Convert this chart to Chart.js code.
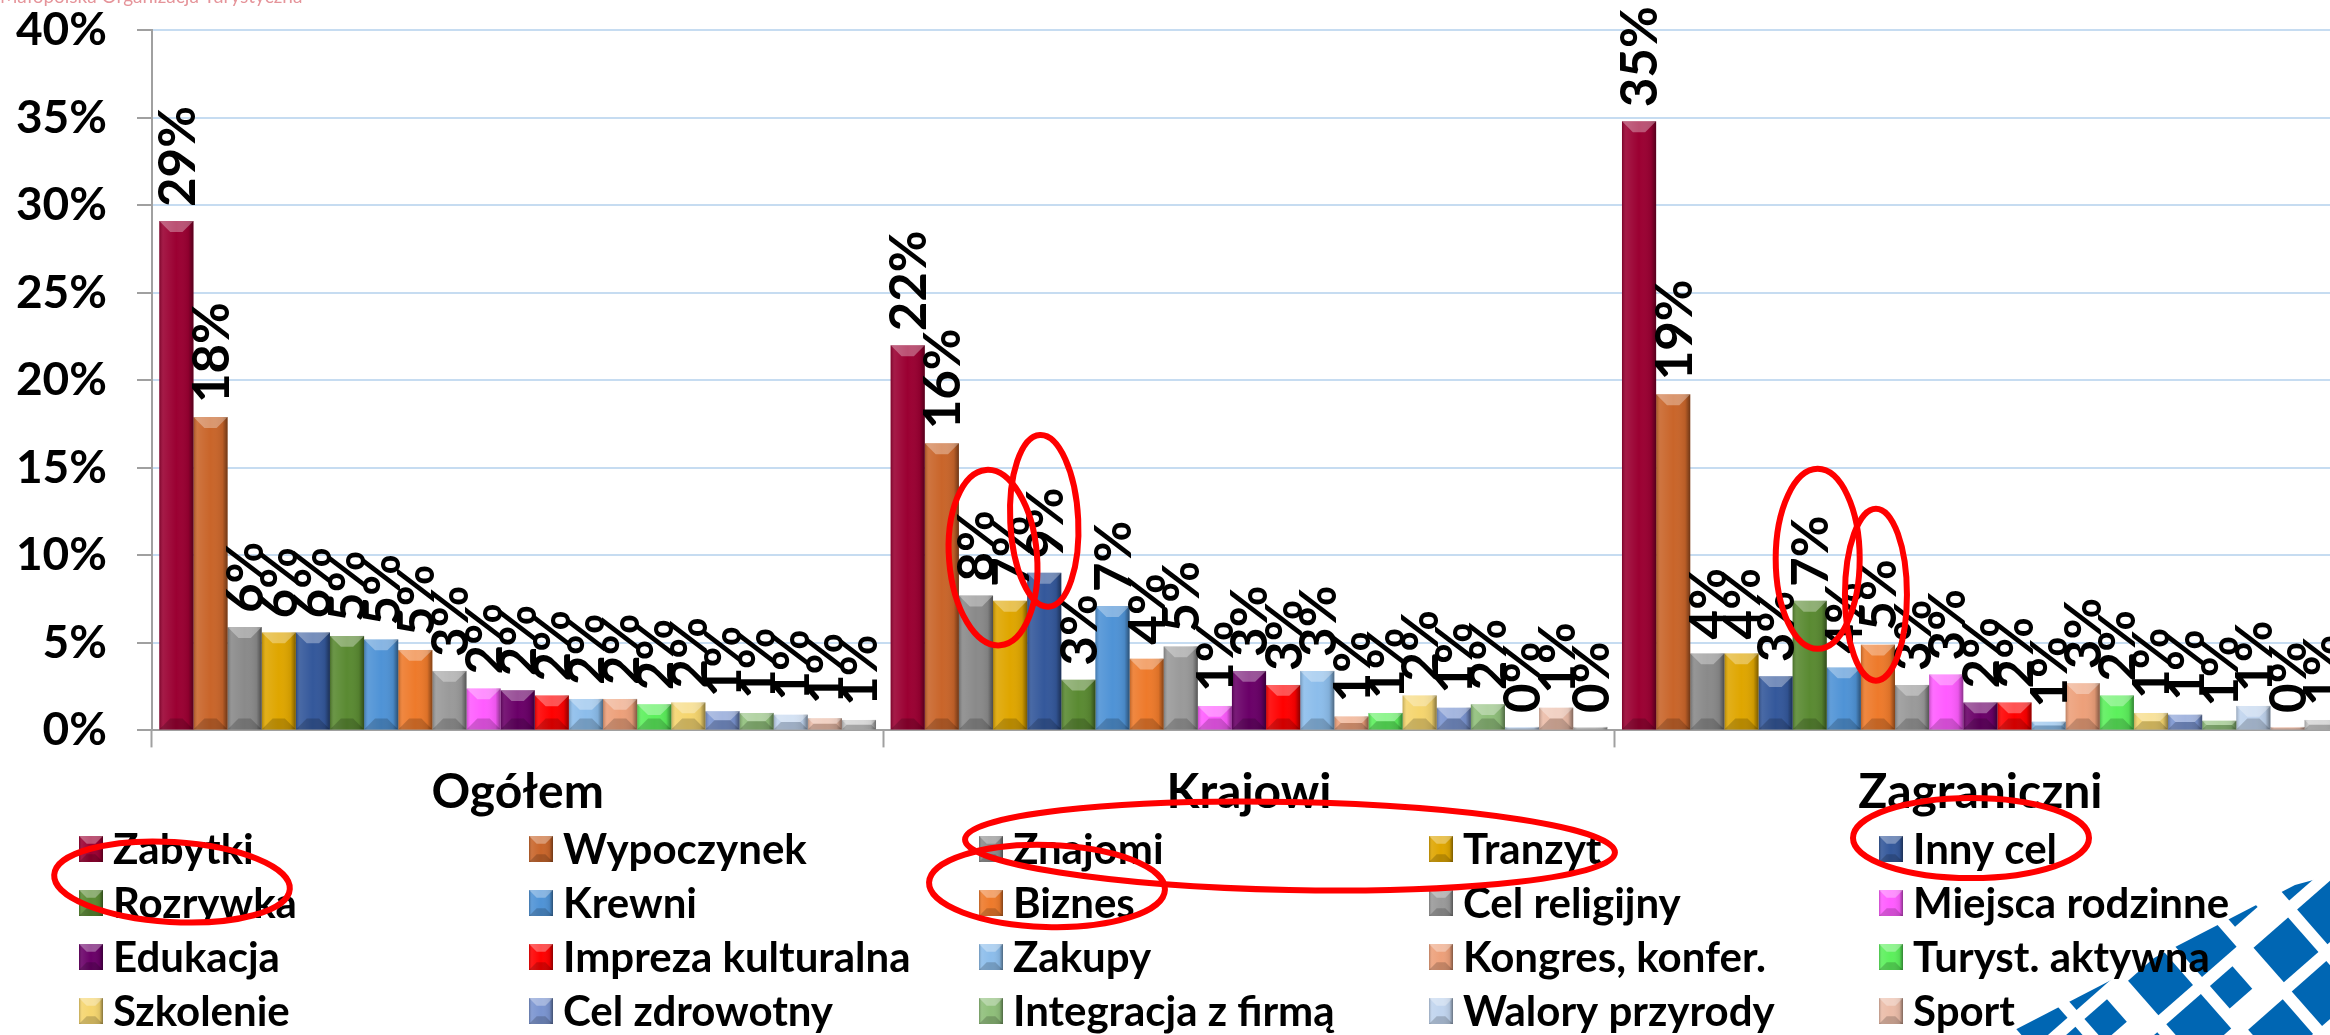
<!DOCTYPE html>
<html><head><meta charset="utf-8">
<script src="https://cdn.jsdelivr.net/npm/chart.js@4.4.1/dist/chart.umd.min.js"></script>
<style>
html,body{margin:0;padding:0;background:#fff;overflow:hidden;width:2330px;height:1035px;}
#wrap{position:absolute;left:0;top:0;width:2350px;height:1035px;}
</style></head><body>
<div id="wrap"><canvas id="c" width="2350" height="1035"></canvas></div>
<script>
// ---- DATA ----
const categories = ['Ogółem', 'Krajowi', 'Zagraniczni'];
const seriesNames = ['Zabytki','Wypoczynek','Znajomi','Tranzyt','Inny cel','Rozrywka','Krewni','Biznes','Cel religijny','Miejsca rodzinne','Edukacja','Impreza kulturalna','Zakupy','Kongres, konfer.','Turyst. aktywna','Szkolenie','Cel zdrowotny','Integracja z firmą','Walory przyrody','Sport','Inne'];
const seriesColors = ['#9b0032','#c9652a','#8a8a8a','#dfa600','#34589b','#5a8a32','#4f93d6','#ee7a2b','#9a9a9a','#ff5cff','#6a0068','#ff0000','#8cbdeb','#eda07a','#5cf05c','#f5d56e','#7a94d0','#8fbf7a','#c0d4ee','#ebbca8','#c8c8c8'];
const ogolem      = [29.1,17.9,5.9,5.6,5.6,5.4,5.2,4.6,3.4,2.4,2.3,2.0,1.8,1.8,1.5,1.6,1.1,1.0,0.9,0.7,0.6];
const krajowi     = [22.0,16.4,7.7,7.4,9.0,2.9,7.1,4.1,4.8,1.4,3.4,2.6,3.4,0.8,1.0,2.0,1.3,1.5,0.2,1.3,0.2];
const zagraniczni = [34.8,19.2,4.4,4.4,3.1,7.4,3.6,4.9,2.6,3.2,1.6,1.6,0.5,2.7,2.0,1.0,0.9,0.55,1.4,0.2,0.6];
const yTickValues = [0,5,10,15,20,25,30,35,40];
const headerText = 'Małopolska Organizacja Turystyczna';

const datasets = seriesNames.map((name, i) => ({
  label: name,
  data: [ogolem[i], krajowi[i], zagraniczni[i]],
  backgroundColor: seriesColors[i],
  borderWidth: 0,
  categoryPercentage: 0.98,
  barPercentage: 1.0
}));

function bevel(ctx, left, top, right, bottom) {
  const w = right - left, h = bottom - top;
  if (h <= 0 || w <= 0) return;
  ctx.save();
  const g = ctx.createLinearGradient(left, 0, right, 0);
  g.addColorStop(0, 'rgba(0,0,0,0.22)');
  g.addColorStop(0.12, 'rgba(255,255,255,0.10)');
  g.addColorStop(0.5, 'rgba(255,255,255,0)');
  g.addColorStop(0.85, 'rgba(0,0,0,0.08)');
  g.addColorStop(1, 'rgba(0,0,0,0.45)');
  ctx.fillStyle = g;
  ctx.fillRect(left, top, w, h);
  const d = Math.min(w * 0.32, h / 2);
  ctx.fillStyle = 'rgba(255,255,255,0.32)';
  ctx.beginPath();
  ctx.moveTo(left, top); ctx.lineTo(right, top); ctx.lineTo(right - d, top + d); ctx.lineTo(left + d, top + d); ctx.closePath();
  ctx.fill();
  ctx.fillStyle = 'rgba(0,0,0,0.18)';
  ctx.beginPath();
  ctx.moveTo(left, bottom); ctx.lineTo(right, bottom); ctx.lineTo(right - d, bottom - d); ctx.lineTo(left + d, bottom - d); ctx.closePath();
  ctx.fill();
  ctx.restore();
}

const legendPos = [];

const barDeco = {
  id: 'barDeco',
  afterDatasetsDraw(chart) {
    const ctx = chart.ctx;
    chart.data.datasets.forEach((ds, i) => {
      const meta = chart.getDatasetMeta(i);
      meta.data.forEach((el) => {
        const p = el.getProps(['x','y','base','width'], true);
        bevel(ctx, p.x - p.width / 2, p.y, p.x + p.width / 2, p.base);
      });
    });
    // data labels
    ctx.save();
    ctx.fillStyle = '#000';
    ctx.font = 'bold 51px Lato';
    ctx.textAlign = 'left';
    ctx.textBaseline = 'middle';
    chart.data.datasets.forEach((ds, i) => {
      const meta = chart.getDatasetMeta(i);
      meta.data.forEach((el, j) => {
        const p = el.getProps(['x','y'], true);
        ctx.save();
        ctx.translate(p.x + 2, p.y - 14);
        ctx.rotate(-Math.PI / 2);
        ctx.fillText(Math.round(ds.data[j]) + '%', 0, 0);
        ctx.restore();
      });
    });
    ctx.restore();
  }
};

const legendDeco = {
  id: 'legendDeco',
  afterDraw(chart) {
    const ctx = chart.ctx;
    // logo (decorative)
    ctx.save();
    ctx.beginPath();
    ctx.moveTo(2005, 1035); ctx.lineTo(2295, 885); ctx.lineTo(2350, 870); ctx.lineTo(2350, 1035); ctx.closePath();
    ctx.clip();
    ctx.fillStyle = '#0066b3';
    ctx.translate(2330, 1035);
    ctx.rotate(-0.72);
    for (let a = -12; a < 12; a++) {
      for (let b = -12; b < 12; b++) {
        const s = ((a + b) % 3 === 0) ? 30 : 46;
        ctx.fillRect(a * 58, b * 58, s, s);
      }
    }
    ctx.restore();

    // header
    ctx.save();
    ctx.fillStyle = 'rgba(215,90,100,0.65)';
    ctx.font = '19px Lato';
    ctx.textBaseline = 'alphabetic';
    ctx.fillText(headerText, 0, 3);
    ctx.restore();

    // legend
    const colX0 = 79, colStep = 450, rowY0 = 849, rowStep = 54;
    ctx.save();
    ctx.font = 'bold 42px Lato';
    ctx.textBaseline = 'middle';
    ctx.fillStyle = '#000';
    chart.data.datasets.forEach((ds, i) => {
      const col = i % 5, row = Math.floor(i / 5);
      const x = colX0 + col * colStep, y = rowY0 + row * rowStep;
      legendPos[i] = {x, y};
      ctx.fillStyle = ds.backgroundColor;
      ctx.fillRect(x, y - 13, 24, 26);
      bevel(ctx, x, y - 13, x + 24, y + 13);
      ctx.fillStyle = '#000';
      ctx.fillText(ds.label, x + 34, y + 1);
    });
    ctx.restore();

    // red annotation ellipses
    ctx.save();
    ctx.strokeStyle = '#ff0000';
    ctx.lineWidth = 6;
    const ell = (cx, cy, rx, ry, rot) => { ctx.beginPath(); ctx.ellipse(cx, cy, rx, ry, rot || 0, 0, Math.PI * 2); ctx.stroke(); };
    const bar = (ds, j) => chart.getDatasetMeta(ds).data[j].getProps(['x','y'], true);
    let a = bar(2, 1), b = bar(3, 1);
    ell((a.x + b.x) / 2, a.y - 38, 44, 88, -0.08);
    a = bar(4, 1); ell(a.x, a.y - 52, 34, 86, -0.05);
    a = bar(5, 2); ell(a.x + 8, a.y - 42, 42, 90, 0);
    a = bar(7, 2); ell(a.x - 2, a.y - 50, 31, 86, 0);
    const L = legendPos;
    ell(L[0].x + 93, (L[0].y + L[5].y) / 2 + 6, 118, 40, 0.06);
    ell(L[7].x + 68, L[7].y - 17, 118, 41, 0.03);
    ell((L[2].x + L[3].x) / 2 + 86, L[2].y - 3, 325, 44, 0.02);
    ell(L[4].x + 92, L[4].y - 11, 118, 40, 0);
    ctx.restore();
  }
};

new Chart(document.getElementById('c'), {
  type: 'bar',
  data: { labels: categories, datasets },
  options: {
    responsive: false,
    animation: false,
    layout: { padding: { left: 15, right: 4, top: 0, bottom: 198 } },
    plugins: { legend: { display: false }, tooltip: { enabled: false } },
    scales: {
      x: {
        grid: { offset: true, drawOnChartArea: false, drawTicks: true, tickLength: 17, tickColor: '#a0a0a0', tickWidth: 2 },
        border: { color: '#a0a0a0', width: 2 },
        ticks: { color: '#000', font: { family: 'Lato', weight: 'bold', size: 48 }, padding: 16 }
      },
      y: {
        min: 0, max: 40,
        afterBuildTicks: (axis) => { axis.ticks = yTickValues.map(v => ({ value: v })); },
        afterFit: (axis) => { axis.width = 137; },
        grid: { color: '#c6dcf1', lineWidth: 2, drawTicks: true, tickLength: 15, tickColor: '#a0a0a0' },
        border: { color: '#a0a0a0', width: 2 },
        ticks: { color: '#000', font: { family: 'Lato', weight: 'bold', size: 46, lineHeight: 0.01 }, padding: 30, callback: v => v + '%' }
      }
    }
  },
  plugins: [barDeco, legendDeco]
});
</script>
</body></html>
